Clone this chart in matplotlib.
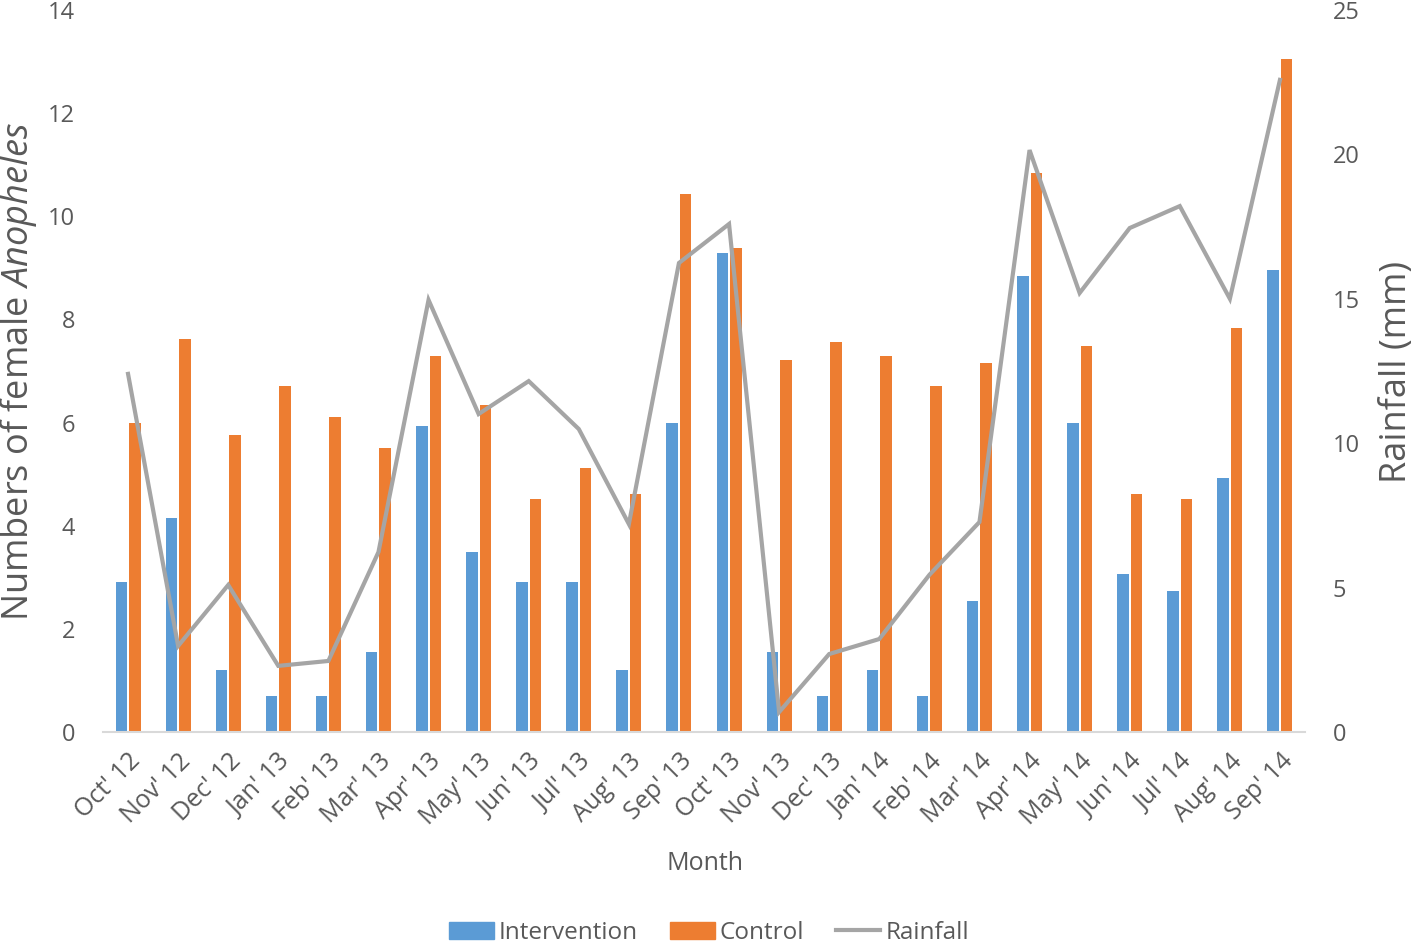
import matplotlib
matplotlib.use("Agg")
import matplotlib.pyplot as plt
import numpy as np
from matplotlib.lines import Line2D
from matplotlib.patches import Patch

months = ["Oct' 12", "Nov' 12", "Dec' 12", "Jan' 13", "Feb' 13", "Mar' 13", "Apr' 13",
          "May' 13", "Jun' 13", "Jul' 13", "Aug' 13", "Sep' 13", "Oct' 13", "Nov' 13",
          "Dec' 13", "Jan' 14", "Feb' 14", "Mar' 14", "Apr' 14", "May' 14", "Jun' 14",
          "Jul' 14", "Aug' 14", "Sep' 14"]
intervention = [2.9, 4.15, 1.2, 0.7, 0.7, 1.55, 5.93, 3.5, 2.9, 2.9, 1.2, 6.0,
                9.29, 1.55, 0.7, 1.2, 0.7, 2.54, 8.84, 6.0, 3.06, 2.73, 4.93, 8.96]
control = [6.0, 7.62, 5.76, 6.71, 6.11, 5.51, 7.29, 6.34, 4.52, 5.12, 4.62, 10.43,
           9.39, 7.21, 7.56, 7.29, 6.71, 7.16, 10.84, 7.49, 4.62, 4.52, 7.83, 13.05]
rainfall = [12.4, 2.98, 5.09, 2.29, 2.46, 6.23, 14.96, 11.01, 12.15, 10.49, 7.2, 16.24,
            17.59, 0.69, 2.7, 3.22, 5.44, 7.27, 20.15, 15.2, 17.45, 18.21, 15.0, 22.58]

plt.rcParams['font.family'] = ['Open Sans', 'DejaVu Sans']
plt.rcParams['mathtext.fontset'] = 'custom'
plt.rcParams['mathtext.rm'] = 'Open Sans'
plt.rcParams['mathtext.it'] = 'Open Sans:italic'
txt = '#595959'
blue = '#5B9BD5'
orange = '#ED7D31'
grey = '#A5A5A5'

W, H = 1418, 944
fig = plt.figure(figsize=(W / 100, H / 100), dpi=100)
ax = fig.add_axes([103 / W, 1 - 732 / H, (1305 - 103) / W, (732 - 10) / H])
ax2 = ax.twinx()

x = np.arange(len(months))
w = 0.23
ax.bar(x - 0.135, intervention, width=w, color=blue, zorder=2)
ax.bar(x + 0.135, control, width=w, color=orange, zorder=2)
ax2.plot(x, rainfall, color=grey, lw=3.0, solid_joinstyle='miter', zorder=3)

ax.set_xlim(-0.5, len(months) - 0.5)
ax.set_ylim(0, 14)
ax2.set_ylim(0, 25)
ax.set_yticks(range(0, 15, 2))
ax2.set_yticks(range(0, 26, 5))

for a in (ax, ax2):
    for s in a.spines.values():
        s.set_visible(False)
    a.tick_params(length=0, labelsize=17, colors=txt)
ax.spines['bottom'].set_visible(True)
ax.spines['bottom'].set_color('#D9D9D9')
ax.spines['bottom'].set_linewidth(1.5)

ax.set_xticks(x)
ax.set_xticklabels(months, rotation=45, ha='right', rotation_mode='anchor')
ax.tick_params(axis='x', pad=12, labelsize=18)
ax.tick_params(axis='y', pad=20)
ax2.tick_params(axis='y', pad=20)

fig.text(19 / W, 1 - 371 / H, 'Numbers of female $\\mathit{Anopheles}$', fontsize=26,
         color=txt, rotation=90, ha='center', va='center')
fig.text(1397 / W, 1 - 372 / H, 'Rainfall (mm)', fontsize=26, color=txt,
         rotation=90, ha='center', va='center')
fig.text(705 / W, 1 - 864 / H, 'Month', fontsize=18, color=txt, ha='center', va='center')

handles = [Patch(color=blue, label='Intervention'),
           Patch(color=orange, label='Control'),
           Line2D([0], [0], color=grey, lw=3.0, label='Rainfall')]
leg = fig.legend(handles=handles, loc='center', bbox_to_anchor=(709 / W, 1 - 933 / H), ncol=3,
                 frameon=False, fontsize=17.5, handlelength=1.85, handletextpad=0.2,
                 columnspacing=1.3, borderpad=0, borderaxespad=0)
for t in leg.get_texts():
    t.set_color(txt)

fig.savefig('out.png', dpi=100)
